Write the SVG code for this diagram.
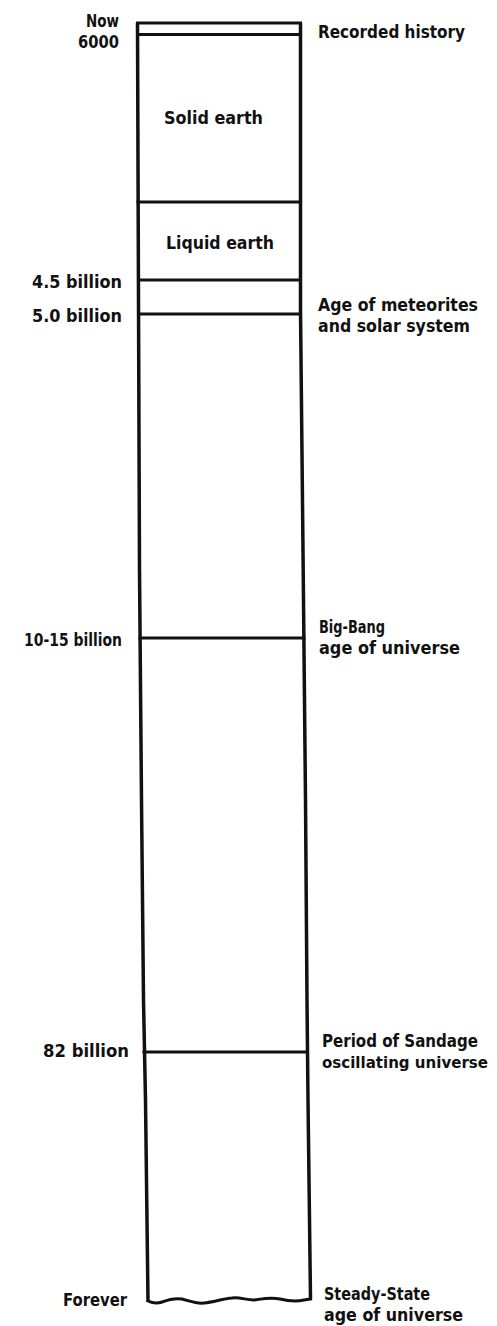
<svg xmlns="http://www.w3.org/2000/svg" width="497" height="1326" viewBox="0 0 497 1326">
<style>
.t{font-family:"Liberation Sans Narrow","DejaVu Sans Condensed","Liberation Sans",sans-serif;font-weight:bold;font-size:18px;fill:#111}
.s{font-size:17px}
.n{font-size:16.5px}
.ln{stroke:#111;stroke-width:3;fill:none;stroke-linecap:square}
.edge{stroke:#111;stroke-width:3.5;fill:none}
</style>
<rect width="497" height="1326" fill="#fff"/>
<g id="column">
<path class="edge" d="M137.5,23 L138.5,300 L139.5,570 L141.5,800 L143.5,1000 L145.5,1100 L148,1301"/>
<path class="edge" d="M300.5,23 L300.5,310 L303,550 L305.5,800 L307,1000 L308,1100 L310.5,1299"/>
<path class="ln" d="M148,1301 C152,1303 156,1304 162,1302 C170,1299 176,1298 182,1299 C190,1301 196,1304 204,1303 C214,1302 222,1299 232,1298 C240,1297 246,1300 254,1300 C262,1299 270,1297 280,1299 C288,1301 296,1302 304,1300 L310.5,1299"/>
</g>
<g id="recorded-history">
<line class="ln" x1="137.5" y1="23" x2="300.5" y2="23"/>
<line class="ln" x1="137.5" y1="34.5" x2="300.5" y2="34.5"/>
<text class="t s" x="86" y="27" textLength="33" lengthAdjust="spacingAndGlyphs">Now</text>
<text class="t s" x="78" y="48" textLength="41" lengthAdjust="spacingAndGlyphs">6000</text>
<text class="t" x="318" y="38" textLength="147" lengthAdjust="spacingAndGlyphs">Recorded history</text>
</g>
<g id="solid-earth">
<text class="t" x="164" y="124" textLength="99" lengthAdjust="spacingAndGlyphs">Solid earth</text>
</g>
<g id="liquid-earth">
<line class="ln" x1="138" y1="202" x2="300.5" y2="202"/>
<text class="t" x="166" y="249" textLength="108" lengthAdjust="spacingAndGlyphs">Liquid earth</text>
</g>
<g id="meteorites">
<line class="ln" x1="138.5" y1="280" x2="300.5" y2="280"/>
<line class="ln" x1="138.5" y1="314" x2="300.5" y2="314"/>
<text class="t" x="32" y="288" textLength="90" lengthAdjust="spacingAndGlyphs">4.5 billion</text>
<text class="t" x="32" y="322" textLength="90" lengthAdjust="spacingAndGlyphs">5.0 billion</text>
<text class="t" x="318" y="311" textLength="160" lengthAdjust="spacingAndGlyphs">Age of meteorites</text>
<text class="t" x="318" y="332" textLength="152" lengthAdjust="spacingAndGlyphs">and solar system</text>
</g>
<g id="big-bang">
<line class="ln" x1="140" y1="638" x2="304" y2="638"/>
<text class="t" x="24" y="646" textLength="98" lengthAdjust="spacingAndGlyphs">10-15 billion</text>
<text class="t" x="319" y="633" textLength="66" lengthAdjust="spacingAndGlyphs">Big-Bang</text>
<text class="t" x="319" y="654" textLength="141" lengthAdjust="spacingAndGlyphs">age of universe</text>
</g>
<g id="sandage">
<line class="ln" x1="144" y1="1052" x2="307.5" y2="1052"/>
<text class="t" x="43" y="1057" textLength="86" lengthAdjust="spacingAndGlyphs">82 billion</text>
<text class="t" x="322" y="1047" textLength="156" lengthAdjust="spacingAndGlyphs">Period of Sandage</text>
<text class="t n" x="322" y="1068" textLength="166" lengthAdjust="spacingAndGlyphs">oscillating universe</text>
</g>
<g id="steady-state">
<text class="t" x="63" y="1306" textLength="64" lengthAdjust="spacingAndGlyphs">Forever</text>
<text class="t" x="324" y="1300" textLength="106" lengthAdjust="spacingAndGlyphs">Steady-State</text>
<text class="t" x="324" y="1321" textLength="139" lengthAdjust="spacingAndGlyphs">age of universe</text>
</g>
<g id="connectors"></g>
</svg>
